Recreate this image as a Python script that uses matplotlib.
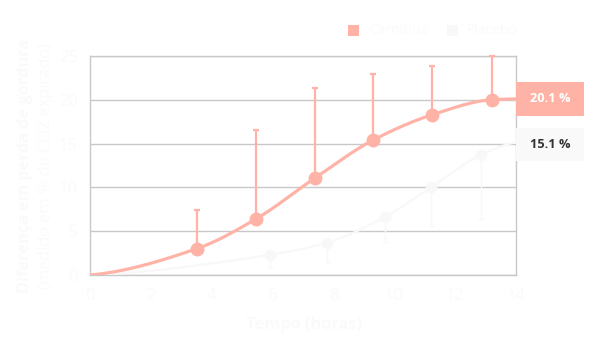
import numpy as np
import matplotlib
matplotlib.use("Agg")
import matplotlib.pyplot as plt
from matplotlib.patches import Rectangle
import matplotlib.transforms as mtransforms

plt.rcParams['font.family'] = ['Open Sans', 'DejaVu Sans']

# ---- data ----
carn_hours = [0, 3.5, 5.45, 7.4, 9.3, 11.25, 13.2, 14]
carn_vals = [0, 3.0, 6.4, 11.1, 15.4, 18.3, 20.0, 20.1]
carn_err_up = [None, 4.4, 10.1, 10.3, 7.5, 5.6, 5.0, None]

plac_hours = [0, 5.9, 7.8, 9.7, 11.2, 12.85, 14]
plac_vals = [0, 2.3, 3.7, 6.65, 10.0, 13.7, 15.1]
plac_err_down = [None, 1.5, 2.2, 2.85, 4.4, 7.3, None]

series_names = ["Carnitina", "Placebo"]
end_labels = ["20.1 %", "15.1 %"]
x_ticks = [0, 2, 4, 6, 8, 10, 12, 14]
y_ticks = [0, 5, 10, 15, 20, 25]
x_title = "Tempo (horas)"
y_title_1 = "Diferença em perda de gordura"
y_title_2 = "(medido em % de CO2 expirado)"

CARN = '#ffb3a7'
PLAC = '#f8f8f8'
TXT = '#fafafa'
GRID = '#c8c8c8'


def pchip(x, y, xs):
    x = np.asarray(x, float); y = np.asarray(y, float)
    h = np.diff(x); d = np.diff(y) / h
    m = np.zeros_like(y)
    for k in range(1, len(x) - 1):
        if d[k - 1] * d[k] > 0:
            w1 = 2 * h[k] + h[k - 1]; w2 = h[k] + 2 * h[k - 1]
            m[k] = (w1 + w2) / (w1 / d[k - 1] + w2 / d[k])
    m[0] = d[0] * 0.35; m[-1] = d[-1] * 0.2
    out = np.empty_like(xs)
    for i, xv in enumerate(xs):
        k = min(np.searchsorted(x, xv, side='right') - 1, len(x) - 2)
        t = (xv - x[k]) / h[k]
        h00 = 2 * t**3 - 3 * t**2 + 1; h10 = t**3 - 2 * t**2 + t
        h01 = -2 * t**3 + 3 * t**2; h11 = t**3 - t**2
        out[i] = h00 * y[k] + h10 * h[k] * m[k] + h01 * y[k + 1] + h11 * h[k] * m[k + 1]
    return out


W, H = 609, 356
fig = plt.figure(figsize=(W / 100, H / 100), dpi=100)
ax = fig.add_axes([90.3 / W, 1 - 275 / H, (516 - 90.3) / W, (275 - 56) / H])
ax.set_xlim(0, 14)
ax.set_ylim(0, 25)

for s in ax.spines.values():
    s.set_color(GRID); s.set_linewidth(1.0)
ax.set_yticks(y_ticks)
ax.set_xticks(x_ticks)
ax.yaxis.grid(True, color=GRID, linewidth=1.0)
ax.set_axisbelow(True)
ax.tick_params(length=0, colors=TXT, labelsize=12)
ax.tick_params(axis='y', pad=9)
ax.tick_params(axis='x', pad=9)

xs = np.linspace(0, 14, 300)
# placebo
ax.plot(xs, pchip(plac_hours, plac_vals, xs), color=PLAC, lw=1.6, solid_capstyle='round', zorder=3)
for hx, v, e in zip(plac_hours, plac_vals, plac_err_down):
    if e is None:
        continue
    ax.errorbar([hx], [v], yerr=[[e], [0]], fmt='none', ecolor=PLAC, elinewidth=1.0, capsize=2.2, capthick=1.0, zorder=3)
    ax.plot([hx], [v], 'o', color=PLAC, ms=7.5, zorder=4, clip_on=False)

# carnitina
ax.plot(xs, pchip(carn_hours, carn_vals, xs), color=CARN, lw=2.3, solid_capstyle='round', zorder=5)
for hx, v, e in zip(carn_hours, carn_vals, carn_err_up):
    if e is None:
        continue
    ax.errorbar([hx], [v], yerr=[[0], [e]], fmt='none', ecolor=CARN, elinewidth=1.6, capsize=2.2, capthick=1.6, zorder=5, clip_on=False)
    ax.plot([hx], [v], 'o', color=CARN, ms=9, zorder=6, clip_on=False)

# end labels
tr = mtransforms.blended_transform_factory(ax.transAxes, ax.transData)
box_w = 68 / (516 - 90.3)
box_h = 33.5 / 8.76
for val, lab, fc, tc in [(carn_vals[-1], end_labels[0], CARN, 'white'),
                         (plac_vals[-1] - 0.22, end_labels[1], '#f9f9f9', '#333333')]:
    ax.add_patch(Rectangle((1.0, val - box_h / 2), box_w, box_h, transform=tr,
                           facecolor=fc, edgecolor='none', clip_on=False, zorder=7))
    ax.text(1.0 + box_w / 2, val, lab, transform=tr, ha='center', va='center',
            color=tc, fontsize=9.2, fontweight='bold', zorder=8, clip_on=False)

# axis titles
fig.text(304 / W, 1 - 325 / H, x_title, ha='center', va='center', color=TXT,
         fontsize=11.8, fontweight='bold')
fig.text(25 / W, 1 - 166 / H, y_title_1, ha='center', va='center', rotation=90,
         color=TXT, fontsize=11.8, fontweight='bold')
fig.text(46 / W, 1 - 166 / H, y_title_2, ha='center', va='center', rotation=90,
         color=TXT, fontsize=11.8)

# legend
for (sx, tx), name, col in zip([(348, 369), (447, 467)], series_names, [CARN, PLAC]):
    fig.patches.append(Rectangle((sx / W, 1 - 36 / H), 11 / W, 11 / H, transform=fig.transFigure,
                                 facecolor=col, edgecolor='none'))
    fig.text(tx / W, 1 - 30.5 / H, name, ha='left', va='center', color=TXT, fontsize=10)

fig.savefig('out.png', dpi=100, facecolor='white')
